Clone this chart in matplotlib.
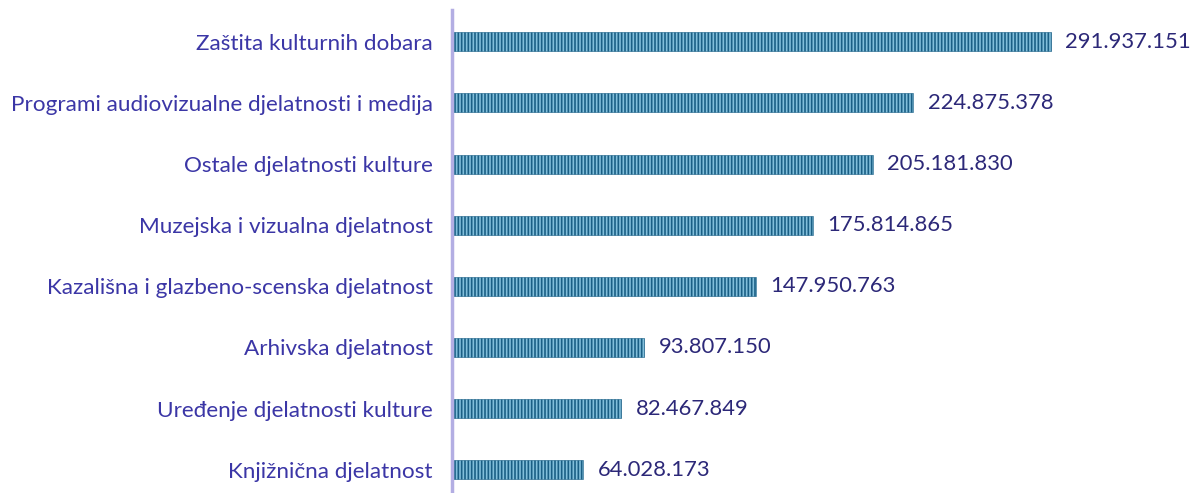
import matplotlib.pyplot as plt
import matplotlib as mpl

categories = [
    "Zaštita kulturnih dobara",
    "Programi audiovizualne djelatnosti i medija",
    "Ostale djelatnosti kulture",
    "Muzejska i vizualna djelatnost",
    "Kazališna i glazbeno-scenska djelatnost",
    "Arhivska djelatnost",
    "Uređenje djelatnosti kulture",
    "Knjižnična djelatnost",
]
values = [291937151, 224875378, 205181830, 175814865, 147950763, 93807150, 82467849, 64028173]

label_color = "#3b36a6"
value_color = "#2c2878"

plt.rcParams["font.family"] = ["Lato", "DejaVu Sans"]
mpl.rcParams["hatch.linewidth"] = 1.2

fig = plt.figure(figsize=(11.92, 4.93), dpi=100)
ax = fig.add_axes([452 / 1192, 0, 740 / 1192, 483 / 493])

ypos = list(range(len(categories)))
ax.barh(ypos, values, height=0.31, left=0, color="#82bfdb", edgecolor="#1a5f85",
        hatch="|||||", linewidth=0.4)

for y, v in zip(ypos, values):
    txt = f"{v:,}".replace(",", ".")
    ax.text(v + 7.0e6, y, txt, va="center", ha="left", fontsize=15.8, color=value_color)

ax.set_yticks(ypos)
ax.set_yticklabels(categories, fontsize=16.2, color=label_color)
ax.tick_params(axis="y", length=0, pad=14)
ax.set_xticks([])
ax.set_xlim(0, 740 / 599 * 291937151)
ax.set_ylim(len(categories) - 1 + 0.38, -0.52)

for s in ["top", "right", "bottom"]:
    ax.spines[s].set_visible(False)
ax.spines["left"].set_color("#b3aee3")
ax.spines["left"].set_linewidth(2.5)

fig.savefig("out.png", dpi=100)
